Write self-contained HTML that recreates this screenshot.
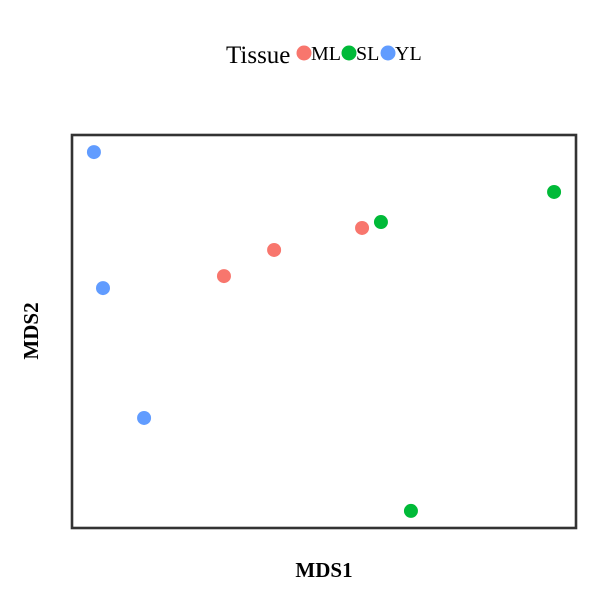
<!DOCTYPE html>
<html><head><meta charset="utf-8"><style>
body{margin:0;background:#fff;width:600px;height:600px;overflow:hidden}
text{font-family:"Liberation Serif",serif}
</style></head><body>
<svg id="chart" width="600" height="600">
<rect x="0" y="0" width="600" height="600" fill="#fff"/>
<rect x="72" y="135" width="504" height="393" fill="none" stroke="#333" stroke-width="2.6"/>
<g id="points"></g>
<text x="324" y="577" text-anchor="middle" font-weight="bold" font-size="21">MDS1</text>
<text transform="translate(38,331) rotate(-90)" text-anchor="middle" font-weight="bold" font-size="21">MDS2</text>
<g>
<text x="226" y="63" font-size="25">Tissue</text>
<g><circle cx="304" cy="53" r="7.5" fill="#F8766D"/><text x="311" y="60" font-size="20">ML</text></g>
<g><circle cx="349" cy="53" r="7.5" fill="#00BA38"/><text x="356" y="60" font-size="20">SL</text></g>
<g><circle cx="388" cy="53" r="7.5" fill="#619CFF"/><text x="395" y="60" font-size="20">YL</text></g>
</g>
</svg>
<script>
const groups = ["YL","YL","YL","ML","ML","ML","SL","SL","SL"];
const mds1 = [-0.913,-0.877,-0.714,-0.397,-0.198,0.151,0.226,0.913,0.345];
const mds2 = [0.913,0.221,-0.440,0.282,0.415,0.527,0.557,0.710,-0.913];
const colors = {ML:"#F8766D",SL:"#00BA38",YL:"#619CFF"};
function sx(v){return 72+(v+1)/2*504;}
function sy(v){return 528-(v+1)/2*393;}
const g=document.getElementById('points');
for(let i=0;i<mds1.length;i++){
  const c=document.createElementNS('http://www.w3.org/2000/svg','circle');
  c.setAttribute('cx',sx(mds1[i]));
  c.setAttribute('cy',sy(mds2[i]));
  c.setAttribute('r',7);
  c.setAttribute('fill',colors[groups[i]]);
  
  
  g.appendChild(c);
}
</script>
</body></html>
